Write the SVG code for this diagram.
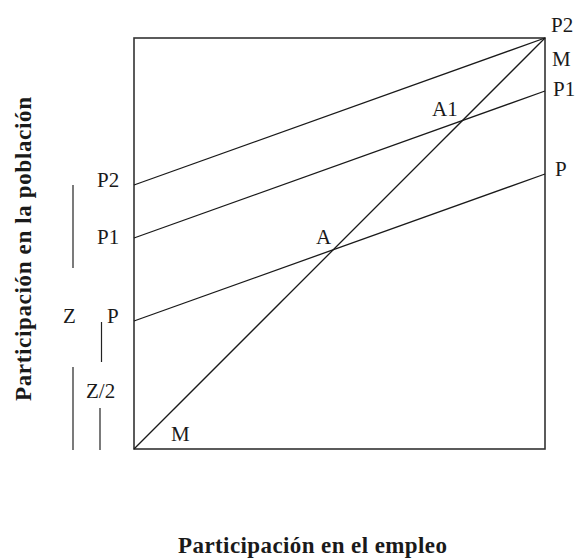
<svg xmlns="http://www.w3.org/2000/svg" width="579" height="560" viewBox="0 0 579 560">
<style>
.lbl{font-family:"Liberation Serif","Times New Roman",serif;font-size:21px;fill:#1a1a1a}
.ax{font-family:"Liberation Serif","Times New Roman",serif;font-size:23px;font-weight:bold;fill:#1a1a1a}
.ln{stroke:#1a1a1a;stroke-width:1.3;fill:none}
.box{stroke:#333;stroke-width:1.6;fill:none}
.br{stroke:#222;stroke-width:1.2;fill:none}
</style>
<rect width="579" height="560" fill="#fff"/>
<g id="frame"><rect class="box" x="134" y="38" width="411" height="411"/></g>
<g id="connectors">
<line class="ln" x1="134" y1="449" x2="545" y2="38"/>
<line class="ln" x1="134" y1="185" x2="545" y2="38"/>
<line class="ln" x1="134" y1="238" x2="545" y2="91"/>
<line class="ln" x1="134" y1="321" x2="545" y2="174"/>
<line class="br" x1="73" y1="185" x2="73" y2="268"/>
<line class="br" x1="73" y1="367" x2="73" y2="450"/>
<line class="br" x1="101.5" y1="322" x2="101.5" y2="362"/>
<line class="br" x1="100" y1="408" x2="100" y2="450"/>
</g>
<g id="labels">
<text class="lbl" x="551" y="32">P2</text>
<text class="lbl" x="552" y="66">M</text>
<text class="lbl" x="553" y="96">P1</text>
<text class="lbl" x="555" y="176">P</text>
<text class="lbl" x="97" y="187">P2</text>
<text class="lbl" x="97" y="244">P1</text>
<text class="lbl" x="63" y="323">Z</text>
<text class="lbl" x="107" y="323">P</text>
<text class="lbl" x="86" y="398">Z/2</text>
<text class="lbl" x="432" y="116">A1</text>
<text class="lbl" x="316" y="244">A</text>
<text class="lbl" x="171" y="441">M</text>
</g>
<g id="axis-labels">
<text class="ax" x="178" y="553" textLength="269" lengthAdjust="spacing">Participación en el empleo</text>
<text class="ax" transform="translate(31,401) rotate(-90)" x="0" y="0" textLength="304" lengthAdjust="spacing">Participación en la población</text>
</g>
</svg>
